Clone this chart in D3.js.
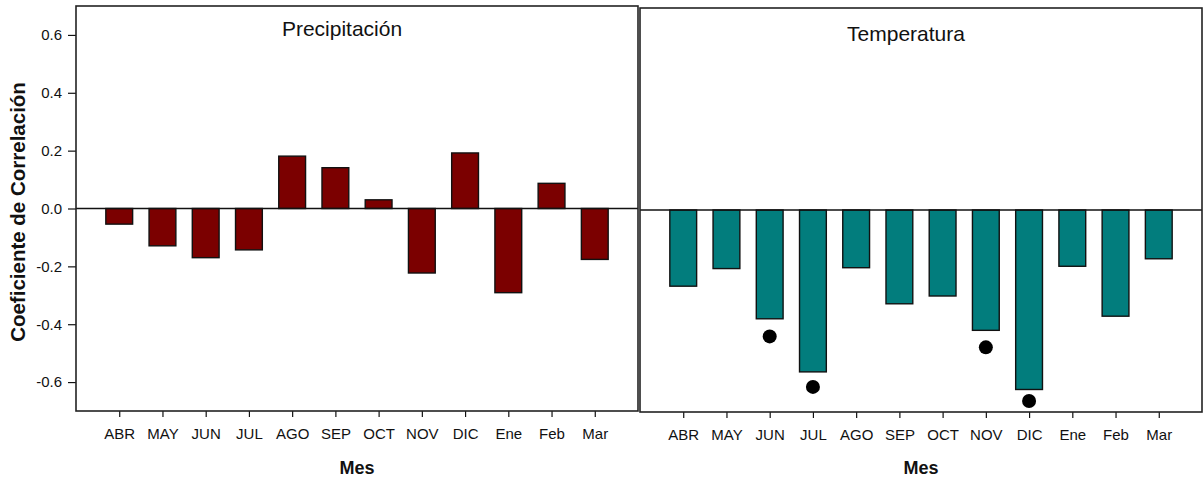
<!DOCTYPE html>
<html>
<head>
<meta charset="utf-8">
<style>
body { margin: 0; background: #fff; }
svg { display: block; font-family: "Liberation Sans", Arial, sans-serif; }
.axis path { display: none; }
.axis line { stroke: #111; stroke-width: 1.2px; }
.axis text { font-size: 15px; fill: #111; }
.frame { fill: none; stroke: #222; stroke-width: 1.6px; }
</style>
<script src="https://d3js.org/d3.v7.min.js"></script>
</head>
<body>
<svg width="1204" height="479"></svg>
<script>

var months = ["ABR", "MAY", "JUN", "JUL", "AGO", "SEP", "OCT", "NOV", "DIC", "Ene", "Feb", "Mar"];
var precip = [-0.054, -0.129, -0.170, -0.143, 0.181, 0.141, 0.030, -0.223, 0.192, -0.291, 0.087, -0.176];
var temp = [-0.264, -0.203, -0.377, -0.561, -0.200, -0.325, -0.298, -0.417, -0.622, -0.195, -0.368, -0.169];
var sigMonths = ["JUN", "JUL", "NOV", "DIC"];
var sigValues = [-0.438, -0.613, -0.476, -0.662];
var yTicks = [-0.6, -0.4, -0.2, 0.0, 0.2, 0.4, 0.6];

var svg = d3.select("svg");

function drawPanel(opt) {
  var x = d3.scaleLinear().domain([0, 13]).range([opt.x0, opt.x1]);
  var y = d3.scaleLinear().domain([-0.7, 0.7]).range([opt.y1, opt.y0]);
  var bw = (x(1) - x(0)) * 0.62;
  var g = svg.append("g");

  g.selectAll(".bar")
    .data(opt.values)
    .enter().append("rect")
    .attr("class", "bar")
    .attr("x", function(d, i) { return x(i + 1) - bw / 2; })
    .attr("y", function(d) { return y(Math.max(0, d)); })
    .attr("width", bw)
    .attr("height", function(d) { return Math.abs(y(d) - y(0)); })
    .attr("fill", opt.color)
    .attr("stroke", "#111")
    .attr("stroke-width", 1.4);

  // zero line
  g.append("line")
    .attr("x1", x(0)).attr("x2", x(13))
    .attr("y1", y(0)).attr("y2", y(0))
    .attr("stroke", "#111").attr("stroke-width", 1.5);

  if (opt.dots) {
    g.selectAll(".dot")
      .data(opt.dots.values)
      .enter().append("circle")
      .attr("class", "dot")
      .attr("cx", function(d, i) { return x(months.indexOf(opt.dots.months[i]) + 1); })
      .attr("cy", function(d) { return y(d); })
      .attr("r", 7)
      .attr("fill", "#000");
  }

  g.append("g")
    .attr("class", "axis")
    .attr("transform", "translate(0," + opt.y1 + ")")
    .call(d3.axisBottom(x)
      .tickValues(d3.range(1, 13))
      .tickFormat(function(d) { return months[d - 1]; })
      .tickSize(6)
      .tickPadding(11));

  if (opt.yAxis) {
    g.append("g")
      .attr("class", "axis")
      .attr("transform", "translate(" + opt.x0 + ",0)")
      .call(d3.axisLeft(y)
        .tickValues(yTicks)
        .tickFormat(function(d) { return d.toFixed(1); })
        .tickSize(8)
        .tickPadding(6));
  }

  g.append("rect")
    .attr("class", "frame")
    .attr("x", opt.x0).attr("y", opt.y0)
    .attr("width", opt.x1 - opt.x0)
    .attr("height", opt.y1 - opt.y0);

  g.append("text")
    .attr("x", (opt.x0 + opt.x1) / 2 - 15)
    .attr("y", opt.titleY)
    .attr("text-anchor", "middle")
    .style("font-size", "21px")
    .attr("fill", "#111")
    .text(opt.title);

  g.append("text")
    .attr("x", (opt.x0 + opt.x1) / 2)
    .attr("y", 474)
    .attr("text-anchor", "middle")
    .style("font-size", "18px")
    .style("font-weight", "bold")
    .attr("fill", "#111")
    .text("Mes");
}

drawPanel({
  x0: 76, x1: 638, y0: 6, y1: 411,
  values: precip, color: "#7b0000",
  title: "Precipitación", titleY: 36, yAxis: true
});

drawPanel({
  x0: 640, x1: 1202, y0: 8, y1: 412,
  values: temp, color: "#027d7d",
  title: "Temperatura", titleY: 41, yAxis: false,
  dots: { months: sigMonths, values: sigValues }
});

svg.append("text")
  .attr("transform", "translate(25,212) rotate(-90)")
  .attr("text-anchor", "middle")
  .style("font-size", "20.5px")
  .style("font-weight", "bold")
  .attr("fill", "#111")
  .text("Coeficiente de Correlación");

</script>
</body>
</html>
